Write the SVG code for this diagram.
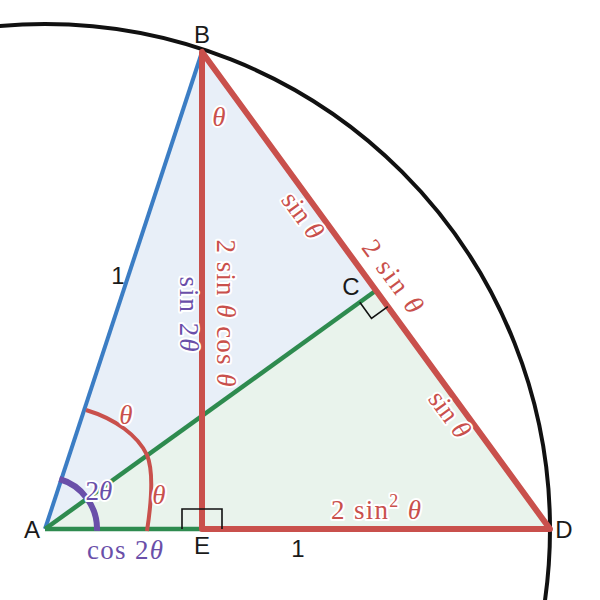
<svg xmlns="http://www.w3.org/2000/svg" width="600" height="600" viewBox="0 0 600 600">
<style>
.red{stroke:#c9504c;fill:none}
.blue{stroke:#3b7dc4;fill:none}
.green{stroke:#2e8b4f;fill:none}
.purple{stroke:#6a4fa9;fill:none}
.lbl{font-family:"Liberation Sans",Arial,sans-serif;font-size:24px;fill:#1a1a1a;text-anchor:middle}
.m{font-family:"Liberation Serif","Times New Roman",serif;font-size:27px;text-anchor:middle;stroke:#ffffff;stroke-width:4;stroke-linejoin:round;paint-order:stroke}
.mr{fill:#c9504c}
.mp{fill:#6a4fa9}
.it{font-style:italic}
</style>
<rect width="600" height="600" fill="#ffffff"/>
<g id="regions">
<polygon points="45,529 202,52 376,290.5" fill="#e8eff8"/>
<polygon points="45,529 376,290.5 550,529" fill="#e9f3ec"/>
</g>
<g id="circle">
<circle cx="45" cy="529" r="505" fill="none" stroke="#111" stroke-width="4"/>
</g>
<g id="connectors">
<line class="blue" x1="45" y1="529" x2="202" y2="52" stroke-width="4"/>
<line class="green" x1="45" y1="529" x2="376" y2="290.5" stroke-width="4.5"/>
<line class="green" x1="45" y1="529" x2="202" y2="529" stroke-width="4.5"/>
<path class="red" d="M202,52 L202,529 L550,529 Z" stroke-width="6" stroke-linejoin="round"/>
<path class="red" d="M86,410 C116,419 138,436 147,455 C154,472 151,505 147,531" stroke-width="4"/>
<path class="purple" d="M59.3,479 A52,52 0 0 1 97,530.8" stroke-width="6"/>
<path d="M182,529 L182,509 L222,509 L222,529" fill="none" stroke="#111" stroke-width="1.6"/>
<path d="M359.8,302.2 L371.5,318.4 L387.8,306.7" fill="none" stroke="#111" stroke-width="1.6"/>
</g>
<g id="A"><text class="lbl" x="32" y="538">A</text></g>
<g id="B"><text class="lbl" x="202" y="43">B</text></g>
<g id="C"><text class="lbl" x="351" y="295">C</text></g>
<g id="D"><text class="lbl" x="564" y="538">D</text></g>
<g id="E"><text class="lbl" x="202" y="554">E</text></g>
<g id="labels">
<text class="lbl" x="118" y="284">1</text>
<text class="lbl" x="298" y="557">1</text>
<text class="m mr it" x="219" y="126">θ</text>
<text class="m mr it" x="126" y="424">θ</text>
<text class="m mr it" x="159" y="504">θ</text>
<text class="m mp" x="99" y="500">2<tspan class="it">θ</tspan></text>
<text class="m mp" x="125" y="559" textLength="76" lengthAdjust="spacing">cos 2<tspan class="it">θ</tspan></text>
<text class="m mr" x="376" y="519" textLength="90" lengthAdjust="spacing">2 sin<tspan font-size="18" dy="-12">2</tspan><tspan dy="12" class="it"> θ</tspan></text>
<text class="m mr" transform="translate(302,216) rotate(53.9)" y="8">sin <tspan class="it">θ</tspan></text>
<text class="m mr" transform="translate(392,277) rotate(53.9)" y="8" textLength="84" lengthAdjust="spacing">2 sin <tspan class="it">θ</tspan></text>
<text class="m mr" transform="translate(449,415) rotate(53.9)" y="8">sin <tspan class="it">θ</tspan></text>
<text class="m mr" transform="translate(225,313) rotate(90)" y="8" textLength="147" lengthAdjust="spacing">2 sin <tspan class="it">θ</tspan> cos <tspan class="it">θ</tspan></text>
<text class="m mp" transform="translate(188,314) rotate(90)" y="8" textLength="75" lengthAdjust="spacing">sin 2<tspan class="it">θ</tspan></text>
</g>
</svg>
